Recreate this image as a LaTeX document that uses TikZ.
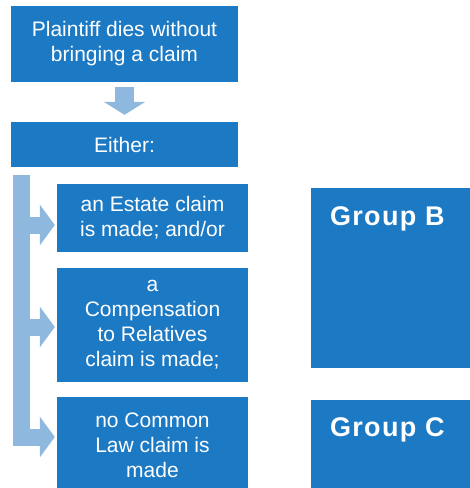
\documentclass[tikz,border=0pt]{standalone}
\usepackage{fontspec}
\setmainfont{Liberation Sans}
\usetikzlibrary{arrows.meta}
\definecolor{boxblue}{RGB}{28,121,196}
\definecolor{arrblue}{RGB}{143,184,222}
\begin{document}
\begin{tikzpicture}[x=1pt,y=-1pt,
  box/.style={fill=boxblue,text=white,align=center,inner sep=0pt,
    minimum width=191pt,font=\fontsize{21}{25}\selectfont},
  grp/.style={fill=boxblue,inner sep=0pt,minimum width=161pt},
  grptext/.style={text=white,inner sep=0pt,anchor=north west,
    font=\fontsize{27}{30}\selectfont\bfseries\addfontfeature{LetterSpace=5}},
  blockarrow/.style={draw=arrblue,line width=#1,line join=miter}]
\useasboundingbox (0,0) rectangle (470,488);
\node [box,minimum width=227pt,minimum height=76pt] (dies) at (124.5,44) {Plaintiff dies without\\bringing a claim};
\node [box,minimum width=227pt,minimum height=45pt] (either) at (124.5,144.5) {Either:};
\node [box,minimum height=68pt] (estate) at (152.5,218) {an Estate claim\\is made; and/or};
\node [box,minimum height=114pt] (comp) at (152.5,325) {a\\Compensation\\to Relatives\\claim is made;};
\node [box,minimum height=97pt] (common) at (152.5,445.5) {no Common\\Law claim is\\made};
\node [grp,minimum height=180pt,label={[grptext,xshift=19pt,yshift=-19pt]north west:Group B}] (grpB) at (391.5,278) {};
\node [grp,minimum height=90pt,label={[grptext,xshift=19pt,yshift=-18pt]north west:Group C}] (grpC) at (391.5,445) {};
% arrows
\draw [blockarrow=19pt,-{Triangle[width=41pt,length=13pt]},shorten <=5pt,shorten >=7pt] (dies) -- (either);
\coordinate (bartop) at (21.5,175);
\draw [blockarrow=17pt,-{Triangle[width=40pt,length=15pt]},shorten >=2pt] (bartop) |- ([yshift=-7pt]estate.west);
\draw [blockarrow=17pt,-{Triangle[width=40pt,length=15pt]},shorten >=2pt] (bartop) |- ([yshift=-2pt]comp.west);
\draw [blockarrow=17pt,-{Triangle[width=40pt,length=15pt]},shorten >=2pt] (bartop) |- ([yshift=8.5pt]common.west);
\end{tikzpicture}
\end{document}
